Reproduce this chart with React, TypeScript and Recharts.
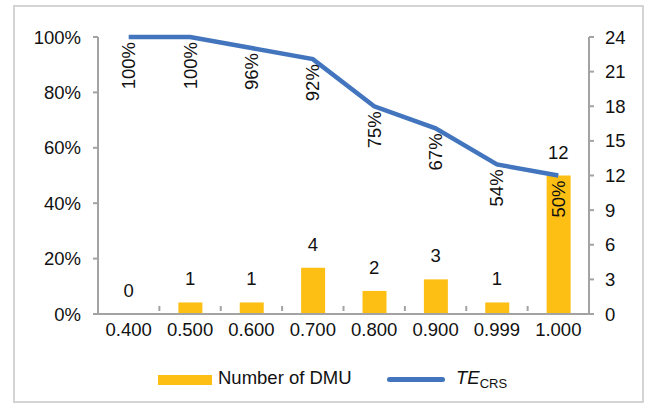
import React from "react";
import { ComposedChart, Bar, Line, XAxis, YAxis, LabelList } from "recharts";

const categories = ["0.400", "0.500", "0.600", "0.700", "0.800", "0.900", "0.999", "1.000"];
const dmuCounts = [0, 1, 1, 4, 2, 3, 1, 12];
const teCrs = [1, 1, 0.96, 0.92, 0.75, 0.67, 0.54, 0.5];
const leftTicks = [0, 0.2, 0.4, 0.6, 0.8, 1];
const rightTicks = [0, 3, 6, 9, 12, 15, 18, 21, 24];

const FONT = '"Liberation Sans", Arial, sans-serif';
const FS = 18.5;
const AXIS = "#a3a3a3";
const BAR = "#fdbf14";
const LINE = "#4275bd";

const data = categories.map((c, i) => ({ cat: c, dmu: dmuCounts[i], te: teCrs[i] }));

function pct(v: number) {
  return `${Math.round(v * 100)}%`;
}

function XTick(props: any) {
  const { x, y, payload, index, width, visibleTicksCount } = props;
  const bw = width / (visibleTicksCount || categories.length);
  const top = y - 16;
  return (
    <g>
      <line x1={x - bw / 2} x2={x - bw / 2} y1={top} y2={top + 5} stroke={AXIS} strokeWidth={2} />
      {index === categories.length - 1 && (
        <line x1={x + bw / 2} x2={x + bw / 2} y1={top} y2={top + 5} stroke={AXIS} strokeWidth={2} />
      )}
      <text x={x} y={top + 30} textAnchor="middle" fill="#111" fontSize={FS} fontFamily={FONT}>
        {payload.value}
      </text>
    </g>
  );
}

// count labels sit above the bar tops (drawn off a hidden line so the zero bar gets one too)
function CountLabel(props: any) {
  const { x, y, value } = props;
  return (
    <text x={x} y={y - 17} textAnchor="middle" fill="#111" fontSize={FS} fontFamily={FONT}>
      {value}
    </text>
  );
}

function LineLabel(props: any) {
  const { x, y, value } = props;
  const ty = y + 5;
  return (
    <text
      x={x}
      y={ty}
      transform={`rotate(-90, ${x}, ${ty})`}
      textAnchor="end"
      dominantBaseline="central"
      fill="#111"
      fontSize={FS}
      fontFamily={FONT}
    >
      {pct(value)}
    </text>
  );
}

const legendText: React.CSSProperties = {
  position: "absolute",
  fontFamily: FONT,
  fontSize: FS,
  color: "#111",
  whiteSpace: "nowrap",
  lineHeight: "20px",
};

export default function App() {
  return (
    <div style={{ position: "absolute", left: 0, top: 0, width: 646, height: 403, background: "#fff" }}>
      <div
        style={{
          position: "absolute",
          left: 13,
          top: 5,
          width: 627,
          height: 394,
          border: "2px solid #d4d4d4",
        }}
      />
      <div style={{ position: "absolute", left: 0, top: 0 }}>
        <ComposedChart
          width={646}
          height={403}
          data={data}
          margin={{ top: 37, right: 7, bottom: 59, left: 38 }}
        >
          <XAxis
            dataKey="cat"
            height={30}
            stroke={AXIS}
            strokeWidth={2}
            tickLine={false}
            tick={<XTick />}
            interval={0}
          />
          <YAxis
            yAxisId="left"
            width={60}
            domain={[0, 1]}
            ticks={leftTicks}
            tickFormatter={pct}
            stroke={AXIS}
            strokeWidth={2}
            tickSize={5}
            tickMargin={12}
            tick={{ fill: "#111", fontSize: FS, fontFamily: FONT }}
          />
          <YAxis
            yAxisId="right"
            orientation="right"
            width={50}
            domain={[0, 24]}
            ticks={rightTicks}
            stroke={AXIS}
            strokeWidth={2}
            tickSize={5}
            tickMargin={11}
            tick={{ fill: "#111", fontSize: FS, fontFamily: FONT }}
          />
          <Bar yAxisId="right" dataKey="dmu" fill={BAR} barSize={24} isAnimationActive={false} />
          <Line
            yAxisId="right"
            dataKey="dmu"
            stroke="none"
            dot={false}
            activeDot={false}
            legendType="none"
            isAnimationActive={false}
          >
            <LabelList dataKey="dmu" content={<CountLabel />} />
          </Line>
          <Line
            yAxisId="left"
            dataKey="te"
            stroke={LINE}
            strokeWidth={4.5}
            dot={false}
            type="linear"
            isAnimationActive={false}
          >
            <LabelList dataKey="te" content={<LineLabel />} />
          </Line>
        </ComposedChart>
      </div>
      <span style={{ position: "absolute", left: 158, top: 375, width: 54, height: 10, background: BAR }} />
      <span style={{ ...legendText, left: 218, top: 368 }}>Number of DMU</span>
      <span
        style={{ position: "absolute", left: 387, top: 377, width: 58, height: 5, borderRadius: 3, background: LINE }}
      />
      <span style={{ ...legendText, left: 456, top: 368 }}>
        <i>TE</i>
        <sub style={{ fontSize: 13, verticalAlign: -4 }}>CRS</sub>
      </span>
    </div>
  );
}
